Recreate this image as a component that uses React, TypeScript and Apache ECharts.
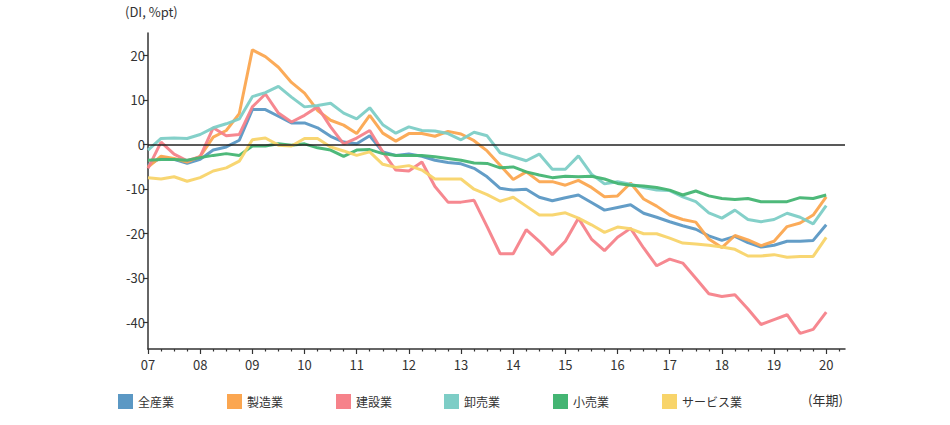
import React, { useEffect, useRef } from "react";
import * as echarts from "echarts";

const seriesNames = ["全産業", "製造業", "建設業", "卸売業", "小売業", "サービス業"];
const colors = ["#5b98c4", "#fba650", "#f6828a", "#7dcdc6", "#44b573", "#f8d46a"];

const startYear = 2007;
const yearTicks = [2007, 2008, 2009, 2010, 2011, 2012, 2013, 2014, 2015, 2016, 2017, 2018, 2019, 2020];
const yTicks = [-40, -30, -20, -10, 0, 10, 20];

// quarterly, 2007Q1 .. 2020Q1 (53 points)
const allIndustries = [
  -4.7, -3.0, -3.4, -4.3, -3.4, -1.3, -0.6, 0.9, 7.8, 7.8, 6.3, 4.8, 4.8, 3.7, 1.8, 0.5,
  0.1, 1.9, -1.7, -2.5, -2.2, -2.7, -3.6, -4.1, -4.4, -5.4, -7.3, -9.9, -10.3, -10.1, -11.9, -12.7,
  -12.0, -11.4, -13.1, -14.8, -14.2, -13.6, -15.5, -16.4, -17.4, -18.3, -19.1, -20.6, -21.6, -20.7, -22.1, -23.1,
  -22.7, -21.8, -21.8, -21.6, -18.1,
];
const manufacturing = [
  -5.1, -2.7, -3.2, -4.0, -2.7, 1.6, 3.1, 6.9, 21.2, 19.7, 17.3, 13.9, 11.5, 7.6, 5.4, 4.3,
  2.4, 6.5, 2.5, 0.7, 2.4, 2.4, 1.8, 2.9, 2.3, 0.8, -1.5, -4.7, -7.9, -6.2, -8.4, -8.4,
  -9.2, -8.1, -9.7, -11.8, -11.6, -8.7, -12.3, -13.9, -15.9, -16.9, -17.5, -21.3, -23.2, -20.5, -21.5, -22.8,
  -21.8, -18.5, -17.7, -15.9, -11.8,
];
const construction = [
  -5.4, 0.5, -2.2, -3.7, -2.8, 3.7, 1.9, 2.2, 8.4, 11.3, 7.0, 5.0, 6.5, 8.4, 3.9, 0.1,
  1.4, 3.1, -1.7, -5.8, -6.0, -4.0, -9.5, -13.0, -13.0, -12.6, -18.5, -24.6, -24.6, -19.2, -21.8, -24.8,
  -21.8, -16.6, -21.3, -23.9, -20.9, -18.9, -23.3, -27.3, -25.8, -26.7, -30.1, -33.6, -34.2, -33.8, -37.0, -40.5,
  -39.4, -38.3, -42.5, -41.6, -37.7,
];
const wholesale = [
  -1.3, 1.3, 1.4, 1.3, 2.2, 3.7, 4.6, 5.7, 10.7, 11.6, 13.0, 10.6, 8.4, 8.7, 9.2, 7.0,
  5.7, 8.2, 4.4, 2.5, 3.9, 3.1, 3.0, 2.4, 1.0, 2.7, 1.9, -1.9, -2.8, -3.7, -2.2, -5.6,
  -5.6, -2.6, -6.7, -8.9, -8.4, -9.0, -9.7, -10.3, -10.4, -11.8, -12.9, -15.4, -16.6, -14.8, -16.9, -17.4,
  -16.9, -15.5, -16.4, -17.9, -13.8,
];
const retail = [
  -3.6, -3.4, -3.4, -3.6, -3.0, -2.5, -2.1, -2.5, -0.4, -0.4, 0.1, -0.2, 0.1, -0.8, -1.3, -2.7,
  -1.3, -1.2, -2.1, -2.5, -2.5, -2.5, -2.8, -3.2, -3.6, -4.2, -4.3, -5.3, -5.1, -6.2, -6.9, -7.5,
  -7.2, -7.3, -7.2, -7.8, -8.8, -9.2, -9.4, -9.7, -10.3, -11.4, -10.5, -11.6, -12.2, -12.4, -12.2, -12.9,
  -12.9, -12.9, -12.0, -12.2, -11.4,
];
const services = [
  -7.5, -7.8, -7.3, -8.3, -7.5, -6.0, -5.3, -3.8, 1.0, 1.4, -0.2, -0.4, 1.3, 1.3, -0.6, -1.5,
  -2.5, -1.7, -4.5, -5.2, -4.8, -5.8, -7.8, -7.8, -7.8, -10.1, -11.3, -12.8, -11.9, -13.9, -15.9, -15.9,
  -15.4, -16.6, -18.1, -19.8, -18.6, -19.0, -20.1, -20.1, -21.1, -22.2, -22.4, -22.7, -23.1, -23.6, -25.1, -25.1,
  -24.8, -25.4, -25.2, -25.2, -20.9,
];
const seriesValues = [allIndustries, manufacturing, construction, wholesale, retail, services];

const legendLefts = [118, 227, 336, 444, 553, 662];
const FONT = "'Noto Sans CJK JP', 'Noto Sans', sans-serif";

export default function App() {
  const ref = useRef<HTMLDivElement>(null);

  useEffect(() => {
    document.body.style.margin = "0";
    const chart = echarts.init(ref.current!, null, { renderer: "svg" });

    const quarterTicks: number[] = [];
    for (let q = 0; q < 54; q++) {
      if (q % 4 !== 0) quarterTicks.push(startYear + q * 0.25);
    }

    const series: any[] = seriesNames.map((name, k) => ({
      name,
      type: "line",
      xAxisIndex: 0,
      yAxisIndex: 0,
      showSymbol: false,
      symbol: "none",
      color: colors[k],
      lineStyle: { width: 3, color: colors[k], opacity: 0.95 },
      itemStyle: { color: colors[k] },
      data: seriesValues[k].map((v, i) => [startYear + i * 0.25, v]),
      z: 2 + k,
    }));
    series[0].markLine = {
      silent: true,
      symbol: "none",
      label: { show: false },
      lineStyle: { color: "#222", width: 1.5, type: "solid" },
      data: [{ yAxis: 0 }],
      z: 10,
    };

    const legends = seriesNames.map((name, k) => ({
      data: [name],
      left: legendLefts[k],
      top: 394,
      icon: "rect",
      itemWidth: 15,
      itemHeight: 15,
      padding: 0,
      selectedMode: false,
      textStyle: { fontSize: 12, color: "#333", fontFamily: FONT },
    }));

    chart.setOption({
      animation: false,
      backgroundColor: "#fff",
      textStyle: { fontFamily: FONT },
      grid: { left: 148, right: 105, top: 33, bottom: 76, containLabel: false },
      xAxis: [
        {
          type: "value",
          min: 2007,
          max: 2020.36,
          position: "bottom",
          axisLine: { show: true, onZero: false, lineStyle: { color: "#333", width: 1.5 } },
          axisTick: { show: true, length: 5, lineStyle: { color: "#333", width: 1.2 }, customValues: yearTicks },
          axisLabel: {
            customValues: yearTicks,
            formatter: (v: number) => String(Math.round(v)).slice(2),
            color: "#333",
            fontSize: 13,
            margin: 9,
            fontFamily: FONT,
          },
          splitLine: { show: false },
        },
        {
          type: "value",
          min: 2007,
          max: 2020.36,
          position: "bottom",
          axisLine: { show: false, onZero: false },
          axisTick: { show: true, length: 2.5, lineStyle: { color: "#333", width: 1.2 }, customValues: quarterTicks },
          axisLabel: { show: false },
          splitLine: { show: false },
        },
      ],
      yAxis: {
        type: "value",
        min: -46,
        max: 25,
        axisLine: { show: true, lineStyle: { color: "#333", width: 1.5 } },
        axisTick: { show: true, length: 5, lineStyle: { color: "#333", width: 1.2 }, customValues: yTicks },
        axisLabel: { customValues: yTicks, color: "#333", fontSize: 13, margin: 3, fontFamily: FONT },
        splitLine: { show: false },
      },
      legend: legends,
      graphic: [
        {
          type: "text",
          left: 125,
          top: 5,
          style: { text: "(DI, %pt)", fontSize: 13, fill: "#333", fontFamily: FONT },
        },
        {
          type: "text",
          left: 808,
          top: 393,
          style: { text: "(年期)", fontSize: 13, fill: "#333", fontFamily: FONT },
        },
      ],
      series,
    });

    return () => chart.dispose();
  }, []);

  return <div ref={ref} style={{ width: 950, height: 425 }} />;
}
